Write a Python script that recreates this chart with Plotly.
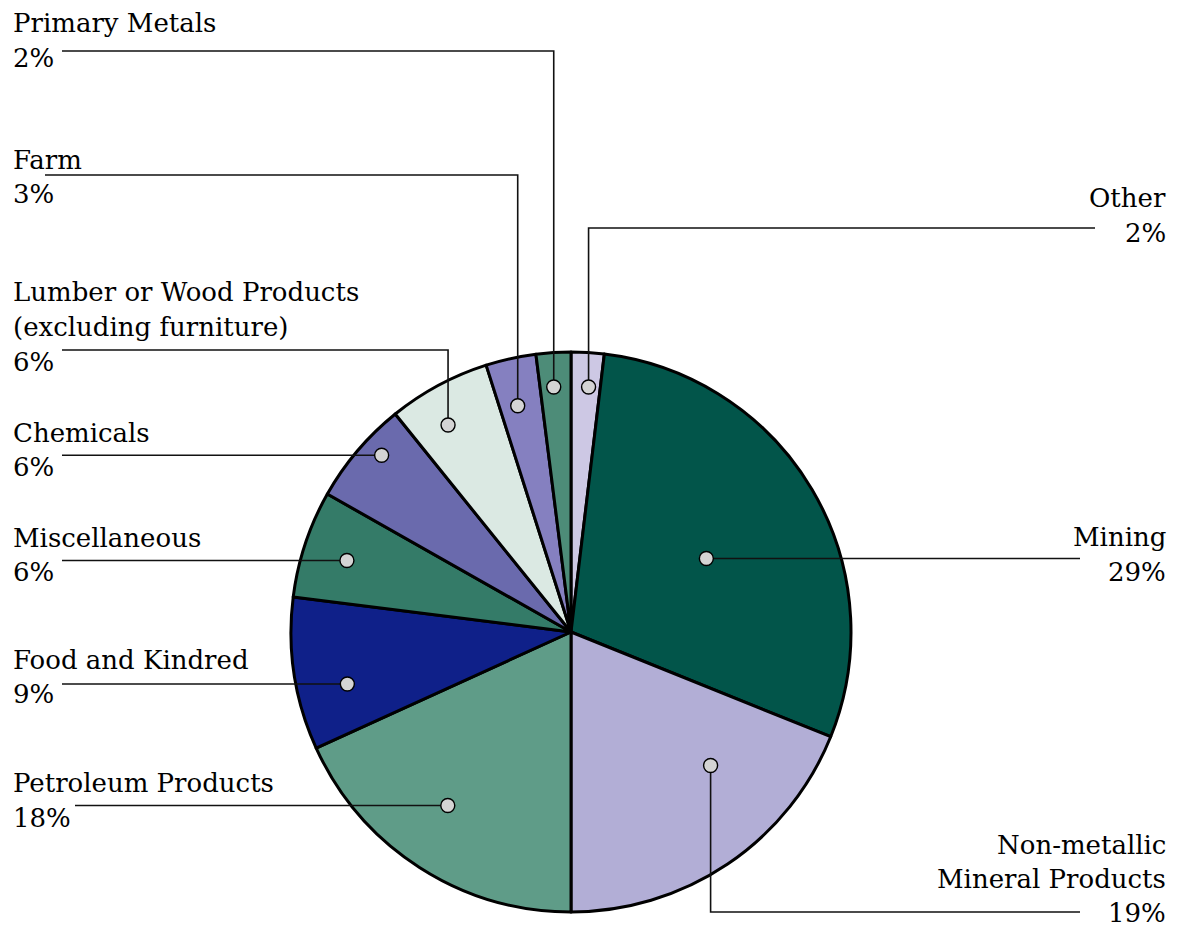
import math
import plotly.graph_objects as go

# ---- data (clockwise from 12 o'clock) ----
labels = ["Other", "Mining", "Non-metallic Mineral Products", "Petroleum Products",
          "Food and Kindred", "Miscellaneous", "Chemicals",
          "Lumber or Wood Products (excluding furniture)", "Farm", "Primary Metals"]
values = [1.9, 29.2, 18.9, 18.2, 8.8, 6.2, 6.0, 5.9, 2.9, 2.0]
label_lines = [["Other"], ["Mining"], ["Non-metallic", "Mineral Products"], ["Petroleum Products"],
               ["Food and Kindred"], ["Miscellaneous"], ["Chemicals"],
               ["Lumber or Wood Products", "(excluding furniture)"], ["Farm"], ["Primary Metals"]]
colors = ["#cdc8e4", "#02554a", "#b2aed6", "#5f9c88", "#0f2089", "#347b68",
          "#6a6aad", "#dbe9e3", "#8580c0", "#4d8c78"]

# ---- layout (pixels) ----
W, H = 1179, 932
CX, CY, R = 571, 632, 280
FONT = "DejaVu Serif"
FS = 26
# anchor dot placement within slice: (fraction of slice angle, fraction of radius)
anchor = [(0.6, 0.877), (0.52, 0.55), (0.32, 0.69), (0.54, 0.76), (0.36, 0.82),
          (0.47, 0.84), (0.625, 0.925), (0.385, 0.86), (0.42, 0.83), (0.44, 0.877)]
# label block: side, first-baseline y, line step, leader horizontal y, leader far-end x
blocks = [("R", 206, 35, 228, 1095), ("R", 545, 35, 560, 1080), ("R", 853, 34, 912, 1080),
          ("L", 791, 35, 806, 75), ("L", 668, 34, 683, 62), ("L", 546, 34, 560, 62),
          ("L", 441, 34, 455, 62), ("L", 300, 35, 350, 62), ("L", 168, 34, 175, 45),
          ("L", 31, 35, 51, 62)]

def px(x):
    return x / W

def py(y):
    return 1 - y / H

fig = go.Figure()
fig.add_trace(go.Pie(
    labels=labels, values=values, sort=False, direction="clockwise", rotation=0,
    marker=dict(colors=colors, line=dict(color="black", width=3)),
    textinfo="none", hoverinfo="label+percent", showlegend=False,
    domain=dict(x=[px(CX - R), px(CX + R)], y=[py(CY + R), py(CY - R)]),
))

total = sum(values)
cum = 0.0
shapes = []
annotations = []
for i, v in enumerate(values):
    a0 = cum / total * 2 * math.pi
    a1 = (cum + v) / total * 2 * math.pi
    cum += v
    fa, fr = anchor[i]
    ang = a0 + fa * (a1 - a0)
    dx = CX + fr * R * math.sin(ang)
    dy = CY - fr * R * math.cos(ang)
    side, base, step, ly, lx = blocks[i]
    # leader line
    if abs(ly - dy) > 3:
        path = f"M {px(dx)},{py(dy)} L {px(dx)},{py(ly)} L {px(lx)},{py(ly)}"
    else:
        path = f"M {px(dx)},{py(dy)} L {px(lx)},{py(dy)}"
    shapes.append(dict(type="path", path=path, xref="paper", yref="paper",
                       line=dict(color="#111111", width=1.6)))
    # dot
    rr = 7
    shapes.append(dict(type="circle", xref="paper", yref="paper",
                       x0=px(dx - rr), x1=px(dx + rr), y0=py(dy + rr), y1=py(dy - rr),
                       fillcolor="#d4d4d4", line=dict(color="black", width=1.4)))
    lines = label_lines[i] + [f"{round(v)}%"]
    for k, t in enumerate(lines):
        yb = base + k * step
        annotations.append(dict(
            text=t, x=px(11 if side == "L" else 1168), y=py(yb - 8),
            xref="paper", yref="paper", showarrow=False,
            xanchor="left" if side == "L" else "right", yanchor="middle",
            font=dict(family=FONT, size=FS, color="black")))

fig.update_layout(
    width=W, height=H, margin=dict(l=0, r=0, t=0, b=0),
    paper_bgcolor="white", plot_bgcolor="white",
    shapes=shapes, annotations=annotations,
)
fig.write_html("out.html")
